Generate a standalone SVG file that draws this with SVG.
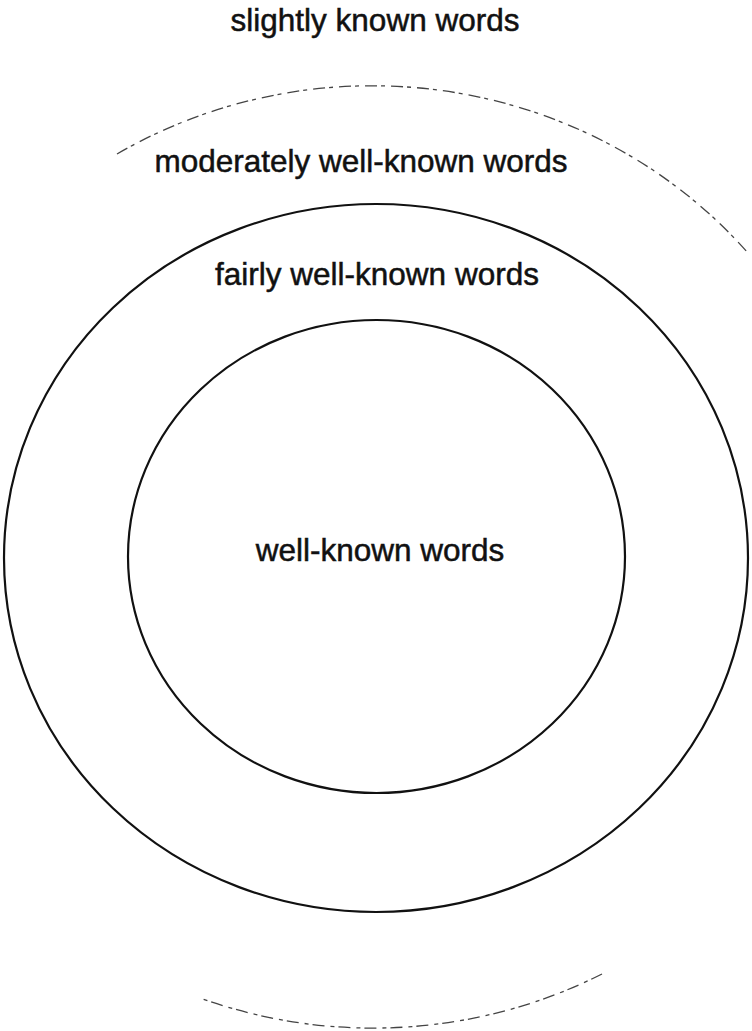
<svg xmlns="http://www.w3.org/2000/svg" width="752" height="1031" viewBox="0 0 752 1031">
<style>
.lbl{font-family:"Liberation Sans",Arial,sans-serif;font-size:31.5px;fill:#111;stroke:#111;stroke-width:0.5;text-anchor:middle}
.ring{fill:none;stroke:#111;stroke-width:2.2}
.faint{fill:none;stroke:#444;stroke-width:1.3;stroke-dasharray:12 4 4 6}
</style>
<rect width="752" height="1031" fill="#fff"/>
<g id="connectors"></g>
<g id="slightly">
<path class="faint" d="M117,154 A492,471 0 0 1 748,253"/>
<path class="faint" d="M602,974 A492,471 0 0 1 200,998"/>
<text class="lbl" x="375" y="31">slightly known words</text>
</g>
<g id="moderately">
<ellipse class="ring" cx="376" cy="558" rx="372" ry="354"/>
<text class="lbl" x="361" y="172">moderately well-known words</text>
</g>
<g id="fairly">
<ellipse class="ring" cx="376.5" cy="556.5" rx="248.5" ry="236.5"/>
<text class="lbl" x="377" y="285">fairly well-known words</text>
</g>
<g id="well">
<text class="lbl" x="380" y="561">well-known words</text>
</g>
</svg>
